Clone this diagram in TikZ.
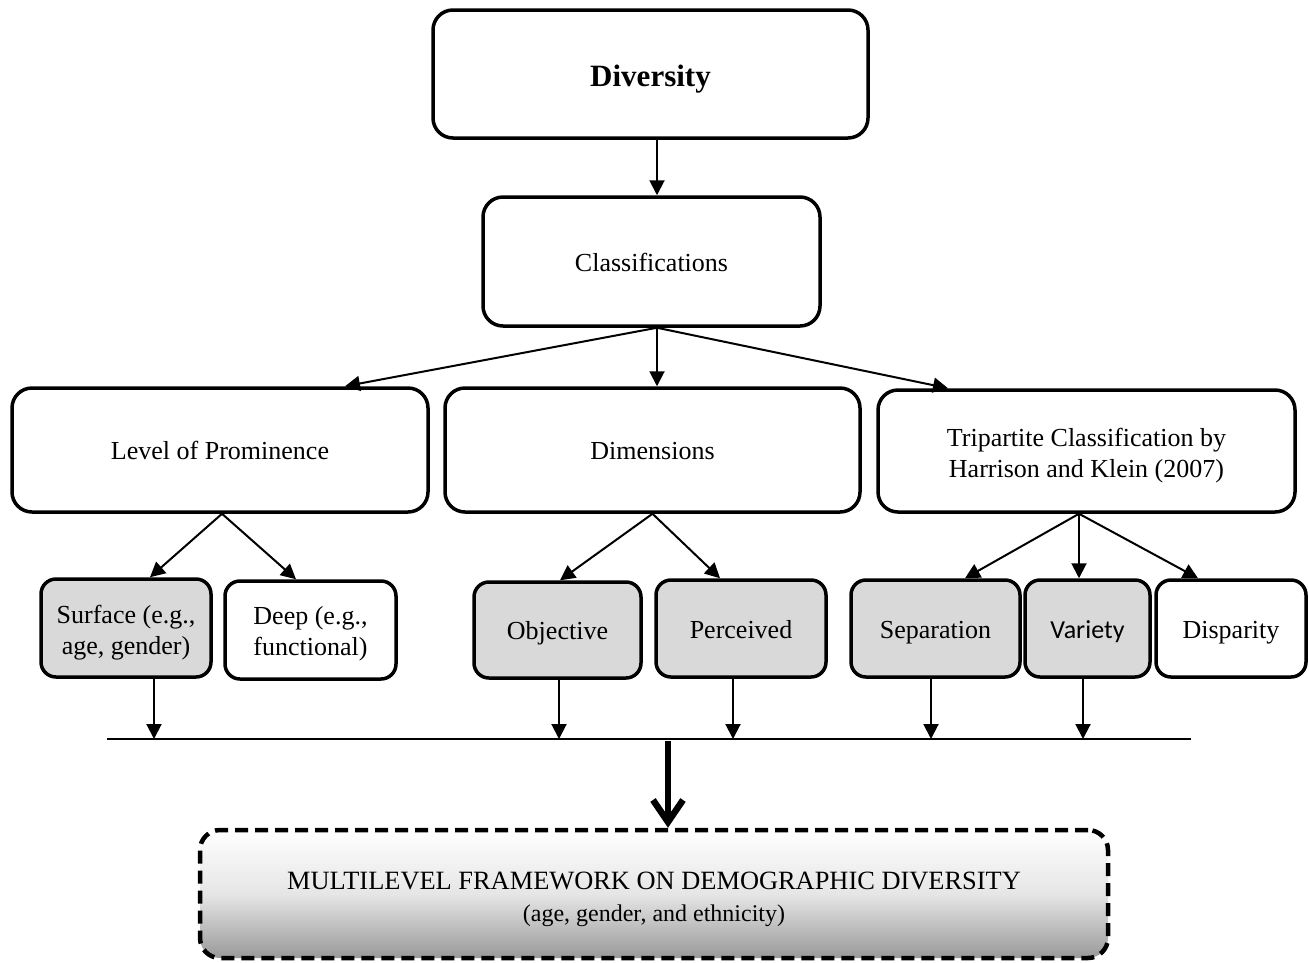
\documentclass[tikz,border=0pt]{standalone}
\usepackage{fontspec}
\setmainfont{Liberation Serif}
\newfontfamily\carlito{Carlito}
\usetikzlibrary{arrows.meta,calc}

\tikzset{
  box/.style={draw, line width=3.5pt, rounded corners=20pt, align=center,
    font=\fontsize{26}{31}\selectfont, inner sep=0pt},
  oneline/.style={text height=25pt, text depth=6pt},
  smallbox/.style={box, rounded corners=15pt},
  grey/.style={fill=black!15},
  arr/.style={line width=2pt, -{Triangle[length=15pt,width=15pt]}},
  bus/.style={line width=2pt},
  bigarr/.style={line width=6.5pt, -{Straight Barb[length=22pt,width=30pt,line width=6.5pt]}},
  framework/.style={box, dash pattern=on 13pt off 7pt, line width=4.5pt,
    top color=white, bottom color=black!40, middle color=black!10},
}
% first-line strut that lowers multi-line labels a little
\newcommand{\lowerstrut}[1]{\rule{0pt}{#1}}

\begin{document}
\begin{tikzpicture}[x=1pt, y=-1pt]
\useasboundingbox (0,0) rectangle (1309,962);

% top of the hierarchy
\node[box, minimum width=435, minimum height=128, text height=31pt, text depth=7pt,
      font=\fontsize{31}{36}\selectfont\bfseries] (div) at (650.5,74) {Diversity};
\node[box, oneline, minimum width=337, minimum height=129] (cls) at (651.5,261.5) {Classifications};

% the three classifications
\node[box, oneline, minimum width=416, minimum height=124] (lev) at (220,450) {Level of Prominence};
\node[box, oneline, minimum width=415, minimum height=124] (dim) at (652.5,450) {Dimensions};
\node[box, minimum width=417, minimum height=122] (tri) at (1086.5,451)
  {\lowerstrut{27pt}Tripartite Classification by\\Harrison and Klein (2007)};

% their categories
\node[smallbox, grey, minimum width=170, minimum height=98] (sur) at (126,628)
  {\lowerstrut{27pt}Surface (e.g.,\\age, gender)};
\node[smallbox, minimum width=171, minimum height=98] (dee) at (310.5,630)
  {\lowerstrut{25pt}Deep (e.g.,\\functional)};
\node[smallbox, grey, oneline, minimum width=167, minimum height=96] (obj) at (557.5,630) {Objective};
\node[smallbox, grey, oneline, minimum width=170, minimum height=97] (per) at (741,628.5) {Perceived};
\node[smallbox, grey, oneline, minimum width=169, minimum height=97] (sep) at (935.5,628.5) {Separation};
\node[smallbox, grey, oneline, minimum width=125, minimum height=97] (var) at (1087.5,628.5)
  {\carlito Variety};
\node[smallbox, oneline, minimum width=150, minimum height=97] (dis) at (1231,628.5) {Disparity};

% resulting framework
\node[framework, minimum width=908, minimum height=128] (mlf) at (654,894)
  {\lowerstrut{28pt}{\fontsize{26.4}{31}\selectfont MULTILEVEL FRAMEWORK ON DEMOGRAPHIC DIVERSITY}\\[1pt]
   {\fontsize{24}{30}\selectfont (age, gender, and ethnicity)}};

% fork points
\coordinate (f0) at ($(cls.south)+(5.5,0)$);
\coordinate (f1) at ($(lev.south)+(2,0)$);
\coordinate (f2) at (dim.south);
\coordinate (f3) at ($(tri.south)+(-7.5,0)$);

% connectors
\draw[arr] ($(div.south)+(6.5,0)$) -- ($(cls.north)+(5.5,0)$);
\draw[arr] (f0) -- ($(lev.north)+(125,0)$);
\draw[arr] (f0) -- ($(dim.north)+(4.5,0)$);
\draw[arr] (f0) -- ($(tri.north)+(-138.5,0)$);

\draw[arr] (f1) -- ($(sur.north)+(24,0)$);
\draw[arr] (f1) -- ($(dee.north)+(-14.5,0)$);
\draw[arr] (f2) -- ($(obj.north)+(2.5,0)$);
\draw[arr] (f2) -- ($(per.north)+(-21,0)$);
\draw[arr] (f3) -- ($(sep.north)+(29.5,0)$);
\draw[arr] (f3) -- ($(var.north)+(-8.5,0)$);
\draw[arr] (f3) -- ($(dis.north)+(-33,0)$);

% collecting line
\coordinate (busL) at (107,739);
\coordinate (busR) at (1191,739);
\draw[bus] (busL) -- (busR);

\coordinate (d1) at ($(sur.south)+(28,0)$);
\coordinate (d2) at ($(obj.south)+(1.5,0)$);
\coordinate (d3) at ($(per.south)+(-8,0)$);
\coordinate (d4) at ($(sep.south)+(-4.5,0)$);
\coordinate (d5) at ($(var.south)+(-4.5,0)$);
\foreach \d in {d1,d2,d3,d4,d5}
  \draw[arr] (\d) -- (\d |- busL);

\coordinate (m0) at (668,741);
\draw[bigarr] (m0) -- (m0 |- mlf.north);
\end{tikzpicture}
\end{document}
